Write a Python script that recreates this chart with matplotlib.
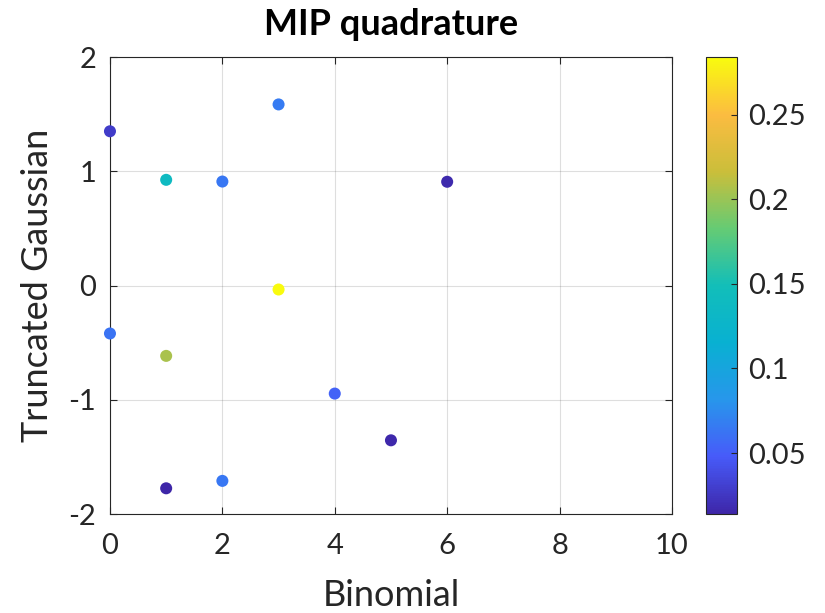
import numpy as np
import matplotlib
matplotlib.use('Agg')
import matplotlib.pyplot as plt
from matplotlib.colors import LinearSegmentedColormap

# quadrature nodes (binomial index, truncated gaussian node) and weights
binomial = [0, 0, 1, 1, 1, 2, 2, 3, 3, 4, 5, 6]
gaussian = [1.35, -0.42, 0.925, -0.616, -1.775, 0.91, -1.71, 1.585, -0.035, -0.946, -1.355, 0.908]
weights = [0.028, 0.062, 0.138, 0.205, 0.015, 0.064, 0.064, 0.066, 0.284, 0.052, 0.016, 0.017]

xticks = [0, 2, 4, 6, 8, 10]
yticks = [-2, -1, 0, 1, 2]
cticks = [0.05, 0.1, 0.15, 0.2, 0.25]
cticklabels = ['0.05', '0.1', '0.15', '0.2', '0.25']

# approximate MATLAB parula
parulaPts = [(0.0, (0.2422, 0.1504, 0.6603)),
             (0.125, (0.2780, 0.3556, 0.9777)),
             (0.25, (0.1540, 0.5902, 0.9218)),
             (0.375, (0.0328, 0.6922, 0.8221)),
             (0.5, (0.0704, 0.7457, 0.7258)),
             (0.625, (0.3964, 0.7968, 0.4543)),
             (0.75, (0.7938, 0.7458, 0.2283)),
             (0.875, (0.9856, 0.7372, 0.2537)),
             (1.0, (0.9763, 0.9831, 0.0538))]
parula = LinearSegmentedColormap.from_list('parula', parulaPts)

plt.rcParams['font.family'] = ['Lato', 'DejaVu Sans']
plt.rcParams['axes.unicode_minus'] = False
axCol = (0.15, 0.15, 0.15)

fig = plt.figure(figsize=(8.25, 6.13), dpi=100)
ax = fig.add_axes([0.1333, 0.1615, 0.6812, 0.7455])
cax = fig.add_axes([0.8558, 0.1615, 0.0375, 0.7455])

sc = ax.scatter(binomial, gaussian, c=weights, cmap=parula, vmin=0.014, vmax=0.284,
                s=75, edgecolors='none', zorder=3, clip_on=False)
ax.set_xlim(0, 10)
ax.set_ylim(-2, 2)
ax.set_xticks(xticks)
ax.set_yticks(yticks)
ax.grid(True, color=(0.15, 0.15, 0.15), alpha=0.15, linewidth=0.8)
ax.tick_params(direction='in', top=True, right=True, labelsize=21, colors=axCol, length=5)
ax.tick_params(axis='x', pad=14)
ax.tick_params(axis='y', pad=10)
for sp in ax.spines.values():
    sp.set_color(axCol)
    sp.set_linewidth(0.8)
ax.set_xlabel('Binomial', fontsize=26, color=axCol, labelpad=14)
ax.set_ylabel('Truncated Gaussian', fontsize=26, color=axCol, labelpad=10)
ax.set_title('MIP quadrature', fontsize=26, fontweight='bold', pad=16)

cb = fig.colorbar(sc, cax=cax, ticks=cticks)
cb.ax.set_yticklabels(cticklabels)
cb.ax.tick_params(direction='in', labelsize=21, colors=axCol, length=4, pad=8)
cb.outline.set_edgecolor(axCol)
cb.outline.set_linewidth(0.8)

fig.savefig('out.png', dpi=100)
